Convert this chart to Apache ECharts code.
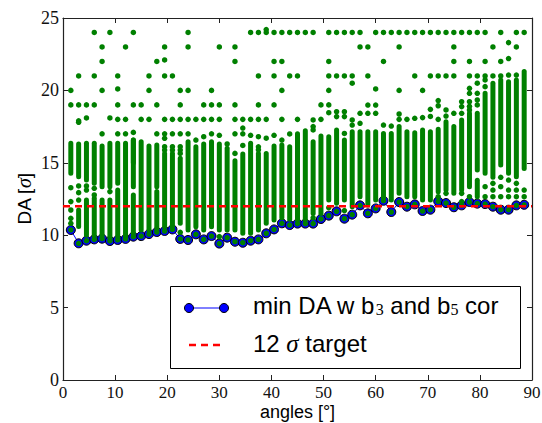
<!DOCTYPE html>
<html>
<head>
<meta charset="utf-8">
<script src="https://cdn.jsdelivr.net/npm/echarts@6/dist/echarts.min.js"></script>
<style>
html,body{margin:0;padding:0;background:#fff;}
#chart{width:542px;height:423px;}
</style>
</head>
<body>
<div id="chart"></div>
<script>
// ---------- data ----------
const angles = [1.5,3,4.5,6,7.5,9,10.5,12,13.5,15,16.5,18,19.5,21,22.5,24,25.5,27,28.5,30,
  31.5,33,34.5,36,37.5,39,40.5,42,43.5,45,46.5,48,49.5,51,52.5,54,55.5,57,58.5,60,
  61.5,63,64.5,66,67.5,69,70.5,72,73.5,75,76.5,78,79.5,81,82.5,84,85.5,87,88.5];

const minDA = [10.36,9.44,9.62,9.71,9.76,9.6,9.67,9.74,9.9,9.94,10.08,10.22,10.29,10.4,9.74,9.67,10.06,9.71,9.94,9.42,
  9.83,9.55,9.48,9.62,9.71,10.13,10.4,10.82,10.7,10.8,10.8,10.8,11.12,11.35,11.65,11.14,11.42,12.06,11.51,11.85,
  12.38,11.6,12.29,11.97,12.13,11.67,11.76,12.34,12.22,11.93,12.06,12.29,12.18,12.15,11.97,11.76,11.76,12.06,12.1];

// main dense band of each angle (low / high)
const bandLow = [14.27,14.04,13.81,13.58,13.35,13.35,13.58,9.9,13.35,10.36,10.36,13.35,10.59,10.6,10.82,10.36,10.59,10.36,10.59,10.36,
  10.36,10.36,10.13,10.13,10.36,10.82,11.05,11.2,11.1,11.05,11.05,11.5,11.5,12.43,12.2,12.43,11.97,12.66,12.09,12.43,
  12.43,12.43,12.89,12.66,12.66,12.43,12.43,13.0,13.12,12.89,13.12,13.35,14.5,14.27,14.0,14.85,14.27,14.04,14.6];
const bandHigh = [16.35,16.3,16.35,16.35,16.16,16.35,16.35,16.35,16.57,16.46,16.16,16.23,15.65,15.65,15.31,16.46,16.11,16.3,16.46,16.3,
  16.0,15.15,15.6,16.35,15.65,15.65,16.16,16.23,16.1,17.0,17.22,16.46,16.85,16.8,17.27,16.57,17.15,17.15,17.15,17.15,
  17.03,17.03,17.5,17.15,17.08,17.27,17.15,17.31,17.84,17.5,17.96,18.42,18.42,19.8,20.49,20.72,20.6,20.72,21.3];
// second (lower) dense band, where the column is split by a gap
const band2Low = [null,10.6,10.0,9.95,9.95,9.8,9.9,null,10.1,null,null,10.4,null,null,null,null,null,null,null,null,
  null,null,null,null,null,null,null,null,null,null,null,null,null,null,null,null,null,null,null,null,
  null,null,null,null,null,null,null,null,null,null,null,null,12.66,null,null,null,null,null,null];
const band2High = [null,11.74,12.43,12.55,12.43,12.43,13.12,null,12.78,null,null,13.01,null,null,null,null,null,null,null,null,
  null,null,null,null,null,null,null,null,null,null,null,null,null,null,null,null,null,null,null,null,
  null,null,null,null,null,null,null,null,null,null,null,null,13.8,null,null,null,null,null,null];
const band3Low = [null,null,null,null,null,null,null,null,15.0,null,null,null,null,null,null,null,null,null,null,null,
  null,null,null,null,null,null,null,null,null,null,null,null,null,null,null,null,null,null,null,null,
  null,null,null,null,null,null,null,null,null,null,null,null,null,null,null,null,null,null,null];

// isolated points of each angle
const extraPoints = [
  [10.82,11.17,11.74,12.32,13.28,19,20],
  [12.43,12.94,13.4,17.8,17.9,19,21],
  [13.12,13.4,18.1,19],
  [12.78,13.24,19,21,24],
  [17,20,22,23],
  [13.01,18.1,24],
  [17,18,19,20.1,21],
  [17,18,23],
  [17.1,19,24],
  [18,19],
  [18,20,21],
  [17,19,22],
  [15.88,16.11,16.69,17,18,21,22.1,23],
  [15.88,16.11,17,18,21],
  [10.2,15.65,15.88,16.11,17,18,19,20],
  [17,18,20,23,24],
  [16.57,18],
  [16.8,18,19],
  [17,18,19,20],
  [9.9,16.9,18,19,23],
  [16.3],
  [15.65,17,18,19,22,23],
  [16.2,17,17.4,18],
  [16.9,18,24],
  [15.9,16.1,16.8,18,19,21,24],
  [16.7,18,24,24.2],
  [16.9,19,21,22,24],
  [16.57,18,20,22,24],
  [16.99,21,24],
  [18,21,24],
  [24],
  [11.2,17.27,17.5,17.96,24],
  [18,19],
  [11.9,18.46,19,20,21,22,24],
  [18.19,18.53,21,24],
  [11.7,17.03,18.19,18.53,21,24],
  [17.61,17.96,20.5,21,24],
  [17.73,18.42,23,24],
  [18.42,18.99,21,23],
  [18.42,18.99,20.1,24],
  [17.61,22,24],
  [17.54,24],
  [18,18.37,20,23,24],
  [18,24],
  [18.07,21,24],
  [18.12,20,24],
  [18.2,18.69,21,24],
  [12.66,18,18.94,19.3,21,24],
  [12.89,18.23,18.65,21,24],
  [18.42,21,22,23,24],
  [12.32,12.89,18.42,18.88,19.22,24],
  [12.66,18.65,18.9,19.22,19.8,20.14,21,22,24],
  [19.0,19.34,19.8,20.5,21,24],
  [12.66,13.35,20.26,20.72,21,22,24],
  [12.66,13.12,13.58,21,23],
  [12.66,13.35,14.0,21,22,24],
  [12.66,13.12,13.81,21.06,22.2,23.3],
  [12.66,13.12,13.58,21.06,23,24],
  [12.66,13.12,24]
];

const targetDA = 12;
const xRange = [0, 90];
const yRange = [0, 25];

// ---------- build series data ----------
const bandData = [];
angles.forEach((a, i) => {
  bandData.push([a, bandLow[i], bandHigh[i]]);
  if (band2Low[i] != null) bandData.push([a, band2Low[i], band2High[i]]);
  if (band3Low[i] != null) bandData.push([a, band3Low[i], bandHigh[i]]);
});
const dotData = [];
angles.forEach((a, i) => {
  dotData.push([a, minDA[i]]);
  extraPoints[i].forEach(v => dotData.push([a, v]));
});
const minData = angles.map((a, i) => [a, minDA[i]]);
const targetData = [[xRange[0], targetDA], [xRange[1], targetDA]];

const GREEN = '#008000';
const serif = '"Liberation Serif", "DejaVu Serif", serif';
const sans = '"Liberation Sans", Arial, sans-serif';
const frame = '#222';

const chart = echarts.init(document.getElementById('chart'), null, {renderer: 'svg'});

const tickCommon = {show: true, inside: true, length: 5, lineStyle: {color: frame, width: 1}};

chart.setOption({
  animation: false,
  backgroundColor: '#fff',
  grid: {left: 63, right: 10, top: 18, bottom: 43, containLabel: false, outerBoundsMode: 'none'},
  xAxis: [{
    type: 'value', position: 'bottom', min: xRange[0], max: xRange[1], interval: 10,
    axisLine: {show: true, onZero: false, lineStyle: {color: frame, width: 1.2}},
    axisTick: tickCommon,
    splitLine: {show: false},
    axisLabel: {color: '#111', fontFamily: serif, fontSize: 17, lineHeight: 15, margin: 5},
    name: 'angles [°]', nameLocation: 'middle', nameGap: 23, nameMoveOverlap: false,
    nameTextStyle: {color: '#000', fontFamily: sans, fontSize: 18, lineHeight: 18, verticalAlign: 'top'}
  }, {
    type: 'value', position: 'top', min: xRange[0], max: xRange[1], interval: 10,
    axisLine: {show: true, onZero: false, lineStyle: {color: frame, width: 1.2}},
    axisTick: tickCommon, axisLabel: {show: false}, splitLine: {show: false}
  }],
  yAxis: [{
    type: 'value', position: 'left', min: yRange[0], max: yRange[1], interval: 5,
    axisLine: {show: true, onZero: false, lineStyle: {color: frame, width: 1.2}},
    axisTick: tickCommon,
    splitLine: {show: false},
    axisLabel: {color: '#111', fontFamily: serif, fontSize: 18, margin: 4},
    name: '{n|DA [}{s|σ}{n|]}', nameLocation: 'middle', nameGap: 29, nameRotate: 90, nameMoveOverlap: false,
    nameTextStyle: {
      color: '#000',
      rich: {
        n: {fontFamily: sans, fontSize: 19, color: '#000'},
        s: {fontFamily: serif, fontStyle: 'italic', fontSize: 20, color: '#000'}
      }
    }
  }, {
    type: 'value', position: 'right', min: yRange[0], max: yRange[1], interval: 5,
    axisLine: {show: true, onZero: false, lineStyle: {color: frame, width: 1.2}},
    axisTick: tickCommon, axisLabel: {show: false}, splitLine: {show: false}
  }],
  series: [
    {
      name: 'min DA', type: 'line', data: minData, z: 2,
      symbol: 'circle', symbolSize: 9, showAllSymbol: true,
      lineStyle: {color: '#0000ff', width: 1},
      itemStyle: {color: '#0000ff', borderColor: '#000', borderWidth: 1}
    },
    {
      name: 'bands', type: 'custom', data: bandData, z: 3,
      renderItem: function (params, api) {
        const x = api.value(0), lo = api.value(1), hi = api.value(2);
        const pTop = api.coord([x, hi]);
        const pBot = api.coord([x, lo]);
        const w = 5;
        return {
          type: 'rect',
          shape: {x: pTop[0] - w / 2, y: pTop[1] - w / 2, width: w, height: pBot[1] - pTop[1] + w, r: w / 2},
          style: {fill: GREEN}
        };
      }
    },
    {
      name: 'all DA', type: 'scatter', data: dotData, z: 4,
      symbol: 'circle', symbolSize: 5.5,
      itemStyle: {color: GREEN, opacity: 1}
    },
    {
      name: 'target', type: 'line', data: targetData, z: 5,
      symbol: 'none',
      lineStyle: {color: '#ff0000', width: 2.5, type: [7, 5]}
    }
  ],
  graphic: [
    {type: 'rect', left: 170, top: 286, z: 100,
     shape: {width: 350, height: 82}, style: {fill: '#fff', stroke: '#000', lineWidth: 1}},
    {type: 'line', z: 101, shape: {x1: 189, y1: 308, x2: 224, y2: 308}, style: {stroke: '#0000ff', lineWidth: 1}},
    {type: 'circle', z: 102, shape: {cx: 189, cy: 308, r: 4.5}, style: {fill: '#0000ff', stroke: '#000', lineWidth: 1}},
    {type: 'circle', z: 102, shape: {cx: 224, cy: 308, r: 4.5}, style: {fill: '#0000ff', stroke: '#000', lineWidth: 1}},
    {type: 'line', z: 101, shape: {x1: 189, y1: 345, x2: 224, y2: 345}, style: {stroke: '#ff0000', lineWidth: 2.5, lineDash: [7, 5]}},
    {type: 'text', z: 103, left: 253, top: 293,
     style: {
       text: '{n|min DA w b}{s|3}{n| and b}{s|5}{n| cor}',
       rich: {
         n: {fontFamily: sans, fontSize: 24, fill: '#000', lineHeight: 28, verticalAlign: 'bottom'},
         s: {fontFamily: serif, fontSize: 16, fill: '#000', lineHeight: 10, verticalAlign: 'bottom'}
       }
     }},
    {type: 'text', z: 103, left: 253, top: 331,
     style: {
       text: '{n|12 }{g|σ}{n| target}',
       rich: {
         n: {fontFamily: sans, fontSize: 24, fill: '#000', lineHeight: 28},
         g: {fontFamily: serif, fontStyle: 'italic', fontSize: 25, fill: '#000', lineHeight: 28}
       }
     }}
  ]
});
</script>
</body>
</html>
